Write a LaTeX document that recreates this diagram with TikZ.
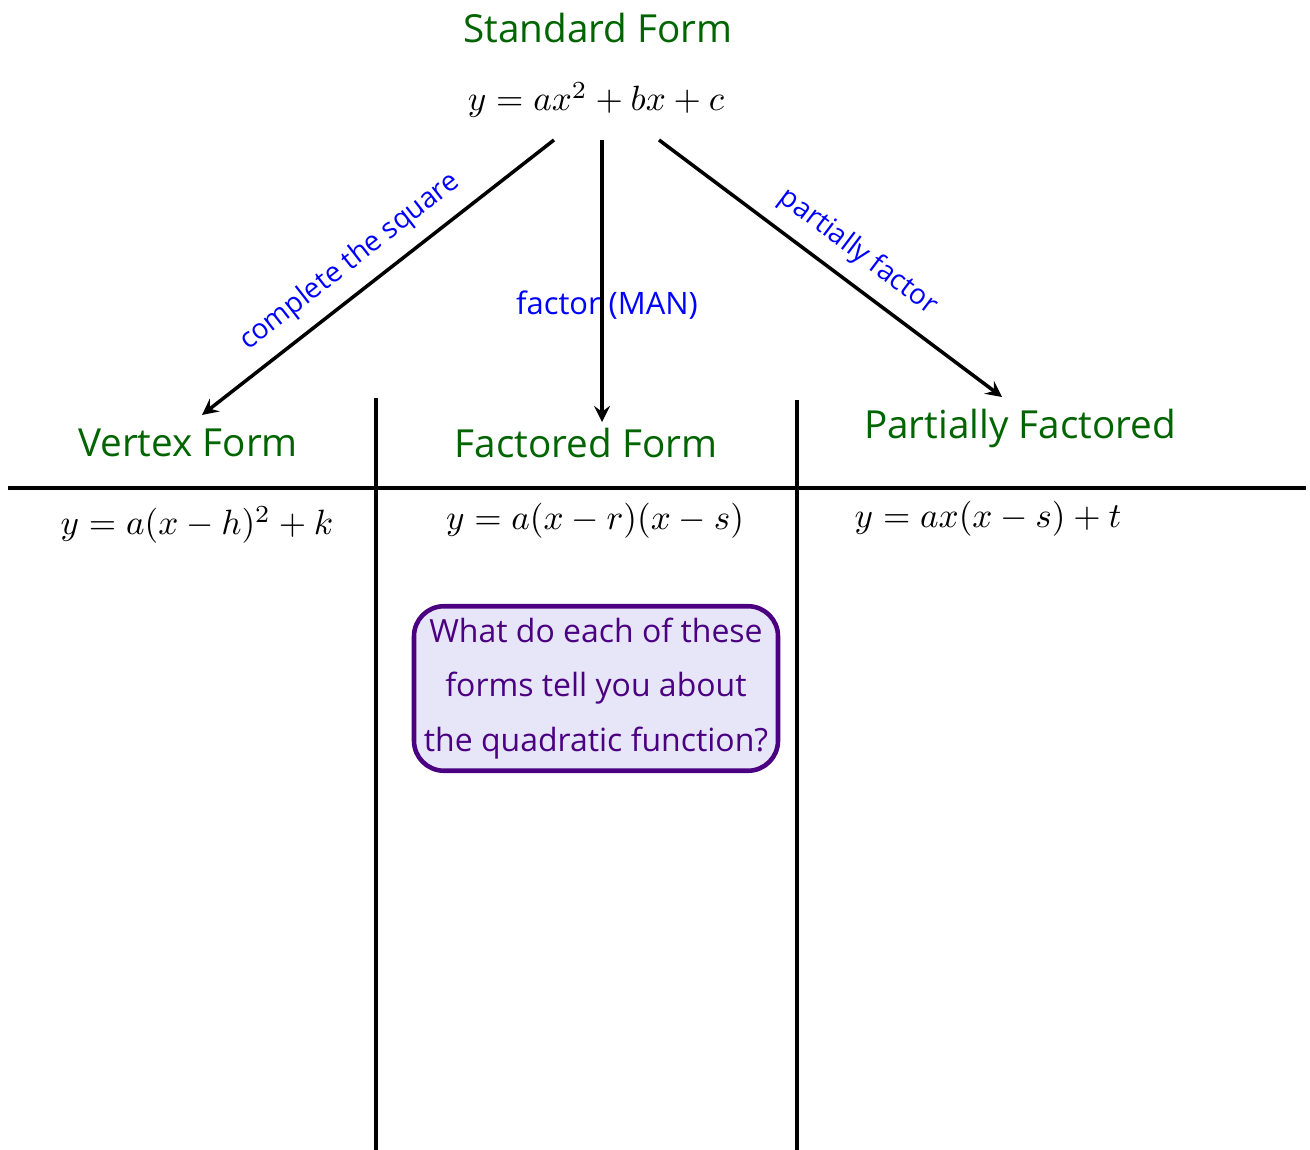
\documentclass[tikz,border=0pt]{standalone}
\usepackage{fontspec}
\setmainfont{Open Sans}
\definecolor{formgreen}{RGB}{0,100,0}
\definecolor{stepblue}{RGB}{0,0,255}
\definecolor{boxpurple}{RGB}{75,0,130}
\definecolor{boxfill}{RGB}{230,230,248}
\tikzset{
  heading/.style={text=formgreen, font=\fontsize{11}{13}\selectfont},
  formula/.style={font=\fontsize{10.3}{13}\selectfont},
  steplabel/.style={text=stepblue, font=\fontsize{8.8}{11}\selectfont},
  slanted/.style={steplabel, font=\fontsize{8}{10}\selectfont},
  rule/.style={line width=1.2pt},
  move/.style={->, >=stealth, line width=1pt}
}
\begin{document}
\begin{tikzpicture}
  \useasboundingbox (0,0) rectangle (13.1,-11.5);

  \node[heading] (std) at (5.98,-0.28) {Standard Form};
  \node[formula] (stdeq) at (5.96,-1.0) {$y=ax^2+bx+c$};

  \node[heading] (vertex) at (1.88,-4.43) {Vertex Form};
  \node[heading] (factored) at (5.86,-4.43) {Factored Form};
  \node[heading] (partial) at (10.20,-4.28) {Partially Factored};

  \node[formula] (vertexeq) at (1.97,-5.25) {$y=a(x-h)^2+k$};
  \node[formula] (factoredeq) at (5.95,-5.21) {$y=a(x-r)(x-s)$};
  \node[formula] (partialeq) at (9.88,-5.19) {$y=ax(x-s)+t$};

  % the table
  \coordinate (hl) at (0.08,-4.88);
  \coordinate (hr) at (13.06,-4.88);
  \coordinate (v1top) at (3.76,-3.98);
  \coordinate (v1bot) at (3.76,-11.5);
  \coordinate (v2top) at (7.97,-4.00);
  \coordinate (v2bot) at (7.97,-11.5);
  \draw[rule] (hl) -- (hr);
  \draw[rule] (v1top) -- (v1bot);
  \draw[rule] (v2top) -- (v2bot);

  % arrows from standard form
  \coordinate (aL) at (5.54,-1.40);
  \coordinate (aM) at (6.02,-1.40);
  \coordinate (aR) at (6.59,-1.40);
  \coordinate (eL) at (2.02,-4.15);
  \coordinate (eM) at (6.02,-4.22);
  \coordinate (eR) at (10.02,-3.97);
  \draw[move] (aL) -- (eL);
  \draw[move] (aM) -- (eM);
  \draw[move] (aR) -- (eR);

  \node[slanted, rotate=38] (cts) at (3.50,-2.62) {complete the square};
  \node[steplabel] (fman) at (6.07,-3.05) {factor (MAN)};
  \node[slanted, rotate=-37] (pf) at (8.58,-2.52) {partially factor};

  \node[draw=boxpurple, line width=1.3pt, fill=boxfill, rounded corners=0.3cm,
        text=boxpurple, align=center, font=\fontsize{9.1}{15.5}\selectfont,
        inner xsep=0.05cm, minimum width=3.64cm, minimum height=1.57cm]
        (question) at (5.96,-6.885)
        {What do each of these\\forms tell you about\\the quadratic function?};
\end{tikzpicture}
\end{document}
